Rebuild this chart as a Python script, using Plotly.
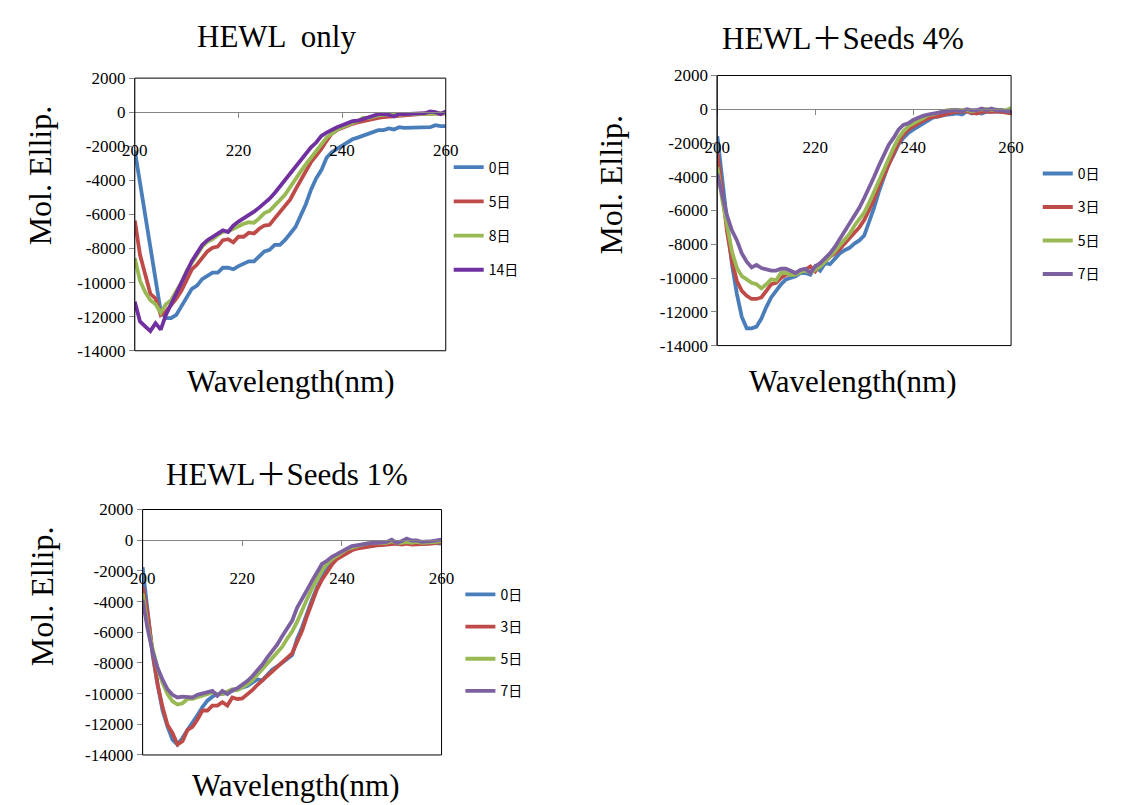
import plotly.graph_objects as go

# ---------------- data ----------------
WAVELENGTH = list(range(200, 261))

# Panel A: HEWL only
A_LABELS = ["0日", "5日", "8日", "14日"]
A_D0 = [-2250, -4160, -6070, -7980, -9890, -11700, -12090, -12090, -11900, -11420,
        -10940, -10370, -10180, -9800, -9610, -9420, -9420, -9130, -9130, -9220,
        -9030, -8900, -8750, -8750, -8460, -8170, -8080, -7790, -7790, -7500,
        -7120, -6740, -6070, -5400, -4550, -3880, -3400, -2670, -2350, -2160,
        -1970, -1780, -1590, -1490, -1390, -1260, -1150, -1050, -1050, -950,
        -1010, -880, -920, -920, -880, -920, -920, -880, -760, -820, -820]
A_D5 = [-6360, -8370, -9510, -10660, -10940, -11900, -11700, -11330, -10940, -10470,
        -9890, -9220, -8940, -8560, -8170, -7950, -7890, -7510, -7450, -7640,
        -7310, -7310, -7070, -7120, -6840, -6650, -6610, -6230, -5880, -5540,
        -5120, -4550, -3970, -3400, -2920, -2540, -2160, -1680, -1260, -1050,
        -920, -780, -680, -600, -520, -440, -380, -330, -290, -260,
        -250, -200, -150, -130, -120, -110, -100, -90, -80, -70, -60]
A_D8 = [-8560, -9890, -10560, -11040, -11270, -11760, -11270, -11040, -10500, -9990,
        -9320, -8840, -8370, -7890, -7600, -7450, -7220, -7030, -6990, -6840,
        -6740, -6550, -6460, -6490, -6230, -5920, -5790, -5500, -5160, -4830,
        -4350, -3880, -3490, -3060, -2670, -2250, -1830, -1490, -1260, -1010,
        -880, -730, -630, -530, -340, -340, -250, -190, -150, -150,
        -190, -150, -130, -120, -110, -100, -100, -90, -80, -70, -60]
A_D14 = [-11130, -12280, -12570, -12850, -12380, -12760, -11900, -11270, -10660, -10080,
         -9420, -8750, -8270, -7790, -7510, -7310, -7120, -6930, -7030, -6650,
         -6420, -6230, -6070, -5840, -5600, -5350, -5080, -4740, -4350, -3970,
         -3630, -3210, -2860, -2440, -2060, -1780, -1390, -1200, -1010, -880,
         -760, -670, -530, -500, -400, -310, -250, -110, -110, -150,
         -250, -110, -110, -110, -80, -60, -60, 40, 0, -110, 40]

# Panel B: HEWL + Seeds 4%
B_LABELS = ["0日", "3日", "5日", "7日"]
B_D0 = [-1600, -4010, -6710, -9220, -10950, -12300, -12980, -12980, -12880, -12400,
        -11720, -11150, -10760, -10370, -10080, -9990, -9890, -9700, -9700, -9800,
        -9310, -9560, -9120, -9180, -8830, -8540, -8350, -8210, -7960, -7770,
        -7480, -6710, -5840, -4880, -4010, -3240, -2700, -2080, -1700, -1410,
        -1210, -1020, -830, -690, -500, -440, -350, -310, -290, -250,
        -310, -120, -250, -190, -250, -150, -150, -120, -150, -120, -150]
B_D3 = [-2560, -4970, -7290, -9030, -10180, -10760, -11050, -11240, -11240, -11150,
        -10760, -10370, -10280, -9990, -9800, -9800, -9700, -9560, -9510, -9310,
        -9600, -9220, -9030, -8740, -8540, -8290, -7960, -7640, -7290, -7000,
        -6560, -5940, -5360, -4590, -3910, -3240, -2560, -1990, -1500, -1210,
        -1020, -830, -690, -540, -440, -440, -350, -250, -190, -150,
        -150, -120, -210, -250, -150, -120, -150, -120, -150, -190, -250]
B_D5 = [-3430, -5360, -6900, -8450, -9410, -9890, -10080, -10280, -10370, -10610,
        -10370, -10080, -10140, -9700, -9700, -9830, -9800, -9640, -9560, -9700,
        -9510, -9310, -9030, -8740, -8410, -8060, -7680, -7390, -6900, -6520,
        -6130, -5550, -4880, -4200, -3530, -2850, -2280, -1700, -1310, -1020,
        -830, -690, -540, -350, -310, -190, -120, -60, -60, -60,
        -100, -60, -120, -60, 0, 0, -20, -60, -60, -60, 80]
B_D7 = [-3820, -5170, -6320, -7190, -7770, -8540, -9030, -9370, -9220, -9410,
        -9510, -9560, -9560, -9450, -9450, -9560, -9700, -9510, -9450, -9700,
        -9310, -9120, -8830, -8540, -8160, -7680, -7290, -6810, -6320, -5840,
        -5260, -4690, -4010, -3340, -2760, -2120, -1700, -1210, -930, -830,
        -640, -500, -390, -310, -250, -190, -150, -120, -60, -60,
        -100, 0, -60, -60, 40, -60, 40, -60, -60, -120, -120]

# Panel C: HEWL + Seeds 1%
C_LABELS = ["0日", "3日", "5日", "7日"]
C_D0 = [-1760, -4520, -7490, -9400, -11100, -12160, -13000, -13320, -12900, -12370,
        -11940, -11410, -10880, -10460, -10200, -10030, -10030, -9930, -9820, -9720,
        -9610, -9500, -9290, -9080, -9140, -8800, -8440, -8230, -8020, -7740,
        -7490, -6430, -5690, -4730, -3880, -3080, -2500, -1870, -1440, -1120,
        -910, -740, -590, -490, -450, -380, -320, -320, -280, -230,
        -110, -230, -230, -170, -230, -230, -280, -230, -170, -170, -230]
C_D3 = [-3030, -4730, -7280, -9400, -10880, -12050, -12580, -13320, -13110, -12370,
        -12160, -11690, -11100, -11100, -10780, -10780, -10560, -10780, -10250, -10350,
        -10310, -10080, -9780, -9440, -9140, -8870, -8550, -8290, -8020, -7660,
        -7380, -6640, -5900, -4940, -3990, -3200, -2570, -2020, -1590, -1230,
        -1020, -810, -660, -550, -490, -450, -380, -340, -320, -280,
        -230, -230, -280, -230, -280, -280, -230, -280, -230, -170, -170]
C_D5 = [-3460, -5580, -7060, -8340, -9290, -10030, -10500, -10710, -10630, -10350,
        -10350, -10250, -10140, -10030, -9930, -10030, -10030, -9860, -9720, -9780,
        -9610, -9400, -9140, -8800, -8440, -8080, -7700, -7320, -6960, -6430,
        -5960, -5330, -4520, -3840, -3140, -2500, -1970, -1550, -1230, -1020,
        -810, -590, -490, -380, -280, -210, -170, -170, -170, -170,
        -60, -170, -170, -110, -170, -110, -170, -170, -110, -110, -60]
C_D7 = [-3880, -5790, -7280, -8340, -9080, -9720, -10080, -10250, -10200, -10200,
        -10250, -10080, -9990, -9860, -9820, -10140, -9820, -10030, -9780, -9650,
        -9440, -9180, -8870, -8510, -8120, -7660, -7240, -6810, -6260, -5790,
        -5260, -4410, -3880, -3250, -2650, -2080, -1550, -1340, -1080, -910,
        -700, -550, -380, -320, -230, -210, -170, -170, -170, -110,
        40, -170, -60, 110, -20, -20, -110, -110, -60, -20, 40]

TITLES = ["HEWL  only", "HEWL＋Seeds 4%", "HEWL＋Seeds 1%"]
X_TICKS = [200, 220, 240, 260]
Y_TICKS = [2000, 0, -2000, -4000, -6000, -8000, -10000, -12000, -14000]
Y_RANGE = [-14000, 2000]
X_RANGE = [200, 260]

# ---------------- styling / layout ----------------
W, H = 1125, 805
SERIF = "Liberation Serif, Noto Sans CJK JP, serif"
SANS = "Noto Sans CJK JP, sans-serif"
COLORS_A = ["#4A7EBB", "#BE4B48", "#98B954", "#7030A0"]
COLORS_BC = ["#4A7EBB", "#BE4B48", "#98B954", "#7D60A0"]


def px_x(v):
    return v / W


def px_y(v):
    return 1 - v / H


# plot-area boxes in pixels: (left, right, top, bottom)
BOXES = [
    (124.7, 443.0, 70.8, 350.0),
    (721.0, 1021.7, 68.1, 344.7),
    (132.7, 438.7, 512.6, 764.0),
]
TITLE_POS = [(270, 28), (850, 30), (280, 477)]
YTITLE_POS = [(28, 170), (612, 180), (29, 601)]
XTITLE_POS = [(285, 381), (860, 381), (290, 795)]
LEGEND_POS = [(446, 146, 13), (1049, 152.5, 12.3), (458, 583.5, 11)]

fig = go.Figure()

panels = [
    (A_LABELS, [A_D0, A_D5, A_D8, A_D14], COLORS_A),
    (B_LABELS, [B_D0, B_D3, B_D5, B_D7], COLORS_BC),
    (C_LABELS, [C_D0, C_D3, C_D5, C_D7], COLORS_BC),
]

layout = dict(
    width=W, height=H,
    margin=dict(l=0, r=0, t=0, b=0),
    paper_bgcolor="white", plot_bgcolor="white",
    showlegend=True,
)
annotations = []
shapes = []

for i, (labels, series, colors) in enumerate(panels):
    n = "" if i == 0 else str(i + 1)
    legname = "legend" + n
    for j, (lab, ys) in enumerate(zip(labels, series)):
        fig.add_trace(go.Scatter(
            x=WAVELENGTH, y=ys, mode="lines", name=lab,
            line=dict(color=colors[j], width=3.8),
            xaxis="x" + n, yaxis="y" + n,
            legend=legname, legendgroup=f"p{i}s{j}",
        ))
    l, r, t, b = BOXES[i]
    dx = [px_x(l), px_x(r)]
    dy = [px_y(b), px_y(t)]
    zero_pos = dy[0] + (0 - Y_RANGE[0]) / (Y_RANGE[1] - Y_RANGE[0]) * (dy[1] - dy[0])
    layout["xaxis" + n] = dict(
        domain=dx, range=X_RANGE, anchor="free", position=zero_pos,
        tickmode="array", tickvals=X_TICKS, ticktext=[str(v) for v in X_TICKS],
        ticks="outside", ticklen=5, tickcolor="#868686", tickwidth=1,
        showline=True, linecolor="#868686", linewidth=1,
        showgrid=False, zeroline=False,
        tickfont=dict(family=SERIF, size=17, color="black"),
        ticklabelstandoff=17, fixedrange=True,
    )
    layout["yaxis" + n] = dict(
        domain=dy, range=Y_RANGE, anchor="x" + n,
        tickmode="array", tickvals=Y_TICKS, ticktext=[str(v) for v in Y_TICKS],
        ticks="outside", ticklen=5, tickcolor="#868686", tickwidth=1,
        showline=True, linecolor="#868686", linewidth=1,
        showgrid=False, zeroline=False,
        tickfont=dict(family=SERIF, size=17, color="black"),
        fixedrange=True,
    )
    lx, ly, gap = LEGEND_POS[i]
    layout[legname] = dict(
        x=px_x(lx), y=px_y(ly), xanchor="left", yanchor="top",
        font=dict(family=SANS, size=14, color="black"),
        bgcolor="rgba(0,0,0,0)", borderwidth=0,
        traceorder="grouped", tracegroupgap=gap,
    )
    shapes.append(dict(
        type="rect", xref=f"x{n} domain", yref=f"y{n} domain",
        x0=0, x1=1, y0=0, y1=1, line=dict(color="#000000", width=1),
        layer="above",
    ))
    tx, ty = TITLE_POS[i]
    annotations.append(dict(
        text=TITLES[i], x=px_x(tx), y=px_y(ty), xref="paper", yref="paper",
        showarrow=False, xanchor="center", yanchor="middle",
        font=dict(family=SERIF, size=31, color="black"),
    ))
    yx, yy = YTITLE_POS[i]
    annotations.append(dict(
        text="Mol. Ellip.", x=px_x(yx), y=px_y(yy), xref="paper", yref="paper",
        showarrow=False, xanchor="center", yanchor="middle", textangle=-90,
        font=dict(family=SERIF, size=32, color="black"),
    ))
    xx, xy = XTITLE_POS[i]
    annotations.append(dict(
        text="Wavelength(nm)", x=px_x(xx), y=px_y(xy), xref="paper", yref="paper",
        showarrow=False, xanchor="center", yanchor="middle",
        font=dict(family=SERIF, size=31, color="black"),
    ))

layout["annotations"] = annotations
layout["shapes"] = shapes
fig.update_layout(**layout)

fig.write_html("out.html")
